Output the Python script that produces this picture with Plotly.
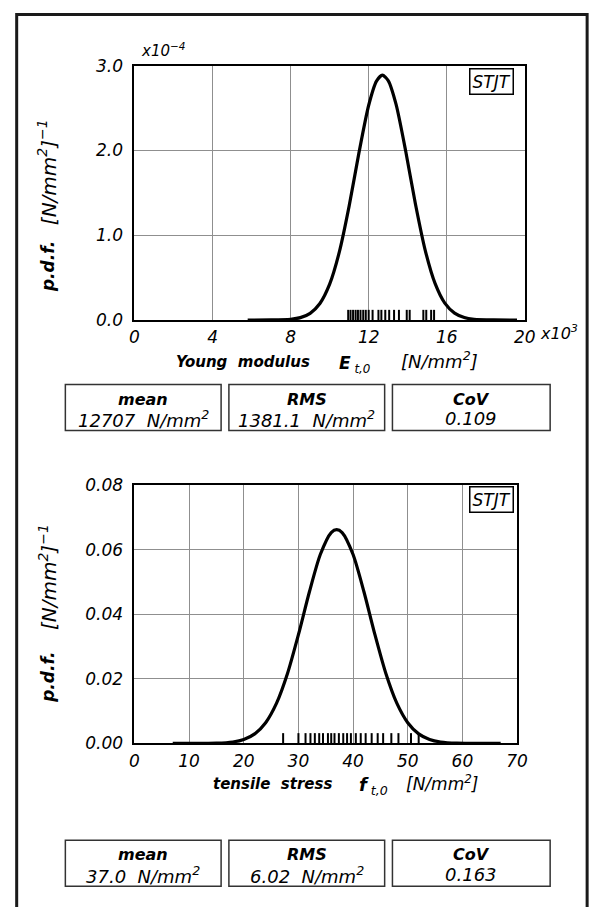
import plotly.graph_objects as go

W, H = 603, 907
FONT = "DejaVu Sans"

# ---------------- data ----------------
# Young modulus E_t,0 : x in 10^3 N/mm2, pdf in 10^-4 [N/mm2]^-1
E_curve_x = [5.8, 7.0, 8.0, 8.5, 9.0, 9.5, 10.0, 10.5, 11.0, 11.5, 12.0, 12.4, 12.7,
             13.0, 13.4, 13.9, 14.4, 14.9, 15.4, 15.9, 16.4, 16.9, 17.4, 18.4, 19.6]
E_curve_pdf = [0.0, 0.001, 0.009, 0.028, 0.079, 0.195, 0.423, 0.806, 1.346, 1.972, 2.534,
               2.819, 2.889, 2.825, 2.547, 1.989, 1.363, 0.819, 0.432, 0.199, 0.081, 0.029,
               0.009, 0.001, 0.0]
E_samples = [10.95, 11.07, 11.2, 11.33, 11.45, 11.58, 11.72, 11.85, 12.0, 12.2, 12.5,
             12.65, 12.85, 13.05, 13.3, 13.55, 13.95, 14.1, 14.8, 14.95, 15.2, 15.35]
E_xticks = [0, 4, 8, 12, 16, 20]
E_yticks = [0, 1, 2, 3]
E_stats = ["12707  N/mm<sup>2</sup>", "1381.1  N/mm<sup>2</sup>", "0.109"]

# Tensile stress f_t,0 : x in N/mm2, pdf in [N/mm2]^-1
F_curve_x = [7, 15, 18, 20, 22, 24, 26, 28, 30, 32, 34, 36, 37, 38, 40, 42, 44, 46, 48,
             50, 52, 54, 56, 59, 67]
F_curve_pdf = [0.0, 0.00008, 0.00046, 0.00123, 0.00297, 0.00644, 0.01249, 0.02168,
               0.03371, 0.04693, 0.05855, 0.06536, 0.06627, 0.06536, 0.05855, 0.04693,
               0.03371, 0.02168, 0.01249, 0.00644, 0.00297, 0.00123, 0.00046, 0.00008, 0.0]
F_samples = [27.2, 30.0, 31.3, 32.2, 33.0, 33.8, 34.5, 35.4, 36.0, 36.6, 37.4, 38.2,
             38.9, 39.6, 40.5, 41.4, 42.3, 43.4, 44.5, 45.5, 47.0, 48.3, 50.6, 52.0]
F_xticks = [0, 10, 20, 30, 40, 50, 60, 70]
F_yticks = [0.0, 0.02, 0.04, 0.06, 0.08]
F_stats = ["37.0  N/mm<sup>2</sup>", "6.02  N/mm<sup>2</sup>", "0.163"]

stat_names = ["mean", "RMS", "CoV"]
sample_label = "STJT"


def px(x):
    return x / W


def py(y):
    return 1 - y / H


fig = go.Figure()
fig.add_trace(go.Scatter(x=E_curve_x, y=E_curve_pdf, mode="lines",
                         line=dict(color="black", width=3.2, shape="spline", smoothing=0.7),
                         xaxis="x", yaxis="y", hoverinfo="skip", showlegend=False))
fig.add_trace(go.Scatter(x=F_curve_x, y=F_curve_pdf, mode="lines",
                         line=dict(color="black", width=3.2, shape="spline", smoothing=0.7),
                         xaxis="x2", yaxis="y2", hoverinfo="skip", showlegend=False))

axc = dict(showgrid=True, gridcolor="#8f8f8f", gridwidth=1, showline=True, linecolor="black",
           linewidth=2, mirror=True, ticks="", zeroline=False, fixedrange=True,
           tickfont=dict(family=FONT, size=17, color="black", style="italic"))

fig.update_layout(
    width=W, height=H, margin=dict(l=0, r=0, t=0, b=0),
    paper_bgcolor="white", plot_bgcolor="white", showlegend=False, hovermode=False,
    xaxis=dict(axc, domain=[px(133), px(534)], range=[0, 20], tickvals=E_xticks,
               ticktext=[str(v) for v in E_xticks], anchor="y", ticklabelstandoff=1),
    yaxis=dict(axc, domain=[py(317), py(57)], range=[0, 3], tickvals=E_yticks,
               tickformat=".1f", anchor="x", ticklabelstandoff=6),
    xaxis2=dict(axc, domain=[px(133), px(526)], range=[0, 70], tickvals=F_xticks,
                ticktext=[str(v) for v in F_xticks], anchor="y2", ticklabelstandoff=1),
    yaxis2=dict(axc, domain=[py(750), py(486)], range=[0, 0.08], tickvals=F_yticks,
                tickformat=".2f", anchor="x2", ticklabelstandoff=6),
)

shapes = []
# rug marks
for v in E_samples:
    shapes.append(dict(type="line", xref="x", yref="y domain", x0=v, x1=v, y0=0, y1=0.04,
                       line=dict(color="black", width=2)))
for v in F_samples:
    shapes.append(dict(type="line", xref="x2", yref="y2 domain", x0=v, x1=v, y0=0, y1=0.04,
                       line=dict(color="black", width=2)))

# outer frame
shapes.append(dict(type="rect", xref="paper", yref="paper", x0=px(12), x1=px(598),
                   y0=py(930), y1=py(4.5), line=dict(color="#1a1a1a", width=3)))

# stat boxes
BOXES_X = [(62, 222), (230, 390), (398, 560)]
annotations = []


def ann(text, x, y, size=16, xanchor="center", yanchor="middle", angle=0):
    annotations.append(dict(text=text, x=px(x), y=py(y), xref="paper", yref="paper",
                            showarrow=False, xanchor=xanchor, yanchor=yanchor,
                            textangle=angle,
                            font=dict(family=FONT, size=size, color="black")))


for row_top, stats in [(383, E_stats), (849, F_stats)]:
    for (bx0, bx1), name, val in zip(BOXES_X, stat_names, stats):
        shapes.append(dict(type="rect", xref="paper", yref="paper", x0=px(bx0), x1=px(bx1),
                           y0=py(row_top + 47), y1=py(row_top),
                           line=dict(color="#333333", width=1.5)))
        ann("<b><i>%s</i></b>" % name, (bx0 + bx1) / 2, row_top + 15, size=16)
        ann("<i>%s</i>" % val, (bx0 + bx1) / 2, row_top + 35, size=18)

fig.update_layout(shapes=shapes)

# axis titles
ann("<b><i>Young  modulus</i></b>", 245, 360, size=15)
ann("<i><b>E</b><sub> t,0</sub></i>", 359, 362, size=17)
ann("<i>[N/mm<sup>2</sup>]</i>", 446, 358, size=18)
ann("<b><i>tensile  stress</i></b>", 275, 791, size=15)
ann("<i><b>f</b><sub> t,0</sub></i>", 379, 793, size=18)
ann("<i>[N/mm<sup>2</sup>]</i>", 449, 790, size=17)

ann("<b><i>p.d.f.</i></b>", 44, 262, size=17, angle=-90)
ann("<i>[N/mm<sup>2</sup>]<sup>−1</sup></i>", 44, 166, size=20, angle=-90)
ann("<b><i>p.d.f.</i></b>", 44, 682, size=17, angle=-90)
ann("<i>[N/mm<sup>2</sup>]<sup>−1</sup></i>", 44, 580, size=20, angle=-90)

# scale factors
ann("<i>x10<sup>−4</sup></i>", 138, 41, size=15, xanchor="left")
ann("<i>x10<sup>3</sup></i>", 548, 330, size=16, xanchor="left")

# sample label boxes
for yc in (73, 501):
    annotations.append(dict(text="<i>%s</i>" % sample_label, x=px(500), y=py(yc),
                            xref="paper", yref="paper", showarrow=False,
                            xanchor="center", yanchor="middle", bgcolor="white",
                            bordercolor="black", borderwidth=1.5, borderpad=2,
                            font=dict(family=FONT, size=17, color="black")))

fig.update_layout(annotations=annotations)
# the page body has a default 8px margin; remove it so the figure fills the window
fig.write_html("out.html", config={"displayModeBar": False, "staticPlot": True},
               post_script="document.body.style.margin='0px';document.body.style.overflow='hidden';")
